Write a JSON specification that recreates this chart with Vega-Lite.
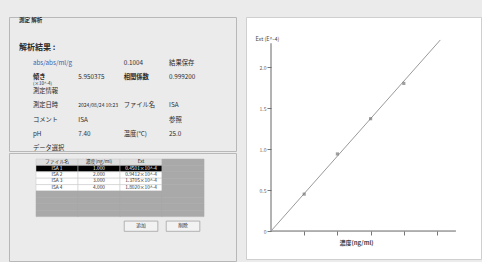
{
  "$schema": "https://vega.github.io/schema/vega-lite/v6.json",
  "background": "#ebebeb",
  "padding": {"left": 8, "top": 16, "right": 0, "bottom": 0},
  "spacing": 8,
  "config": {"font": "Noto Sans CJK JP", "view": {"stroke": null}},
  "datasets": {
    "results": [
      {"line": "k0", "col": "c1", "text": "測定   解析"},
      {"line": "k4", "col": "c1", "text": "解析結果 :"},
      {"line": "k6", "col": "c1", "text": "abs/abs/ml/g"},
      {"line": "k6", "col": "c3", "text": "0.1004"},
      {"line": "k6", "col": "c4", "text": "結果保存"},
      {"line": "k8", "col": "c1", "text": "傾き"},
      {"line": "k8", "col": "c2", "text": "5.950375"},
      {"line": "k8", "col": "c3", "text": "相関係数"},
      {"line": "k8", "col": "c4", "text": "0.999200"},
      {"line": "k9", "col": "c1", "text": "(×10^-4)"},
      {"line": "k10", "col": "c1", "text": "測定情報"},
      {"line": "k12", "col": "c1", "text": "測定日時"},
      {"line": "k12", "col": "c2", "text": "2024/08/24 10:23"},
      {"line": "k12", "col": "c3", "text": "ファイル名"},
      {"line": "k12", "col": "c4", "text": "ISA"},
      {"line": "k14", "col": "c1", "text": "コメント"},
      {"line": "k14", "col": "c2", "text": "ISA"},
      {"line": "k14", "col": "c4", "text": "参照"},
      {"line": "k16", "col": "c1", "text": "pH"},
      {"line": "k16", "col": "c2", "text": "7.40"},
      {"line": "k16", "col": "c3", "text": "温度(°C)"},
      {"line": "k16", "col": "c4", "text": "25.0"},
      {"line": "k18", "col": "c1", "text": "データ選択"}
    ],
    "table": [
      {"row": "h", "col": "name", "text": "ファイル名"},
      {"row": "h", "col": "conc", "text": "濃度(ng/ml)"},
      {"row": "h", "col": "ext", "text": "Ext"},
      {"row": "h", "col": "pad", "text": ""},
      {"row": "r1", "col": "name", "text": "ISA 1"},
      {"row": "r1", "col": "conc", "text": "1.000"},
      {"row": "r1", "col": "ext", "text": "0.4501×10^-4"},
      {"row": "r1", "col": "pad", "text": ""},
      {"row": "r2", "col": "name", "text": "ISA 2"},
      {"row": "r2", "col": "conc", "text": "2.000"},
      {"row": "r2", "col": "ext", "text": "0.9412×10^-4"},
      {"row": "r2", "col": "pad", "text": ""},
      {"row": "r3", "col": "name", "text": "ISA 3"},
      {"row": "r3", "col": "conc", "text": "3.000"},
      {"row": "r3", "col": "ext", "text": "1.3705×10^-4"},
      {"row": "r3", "col": "pad", "text": ""},
      {"row": "r4", "col": "name", "text": "ISA 4"},
      {"row": "r4", "col": "conc", "text": "4.000"},
      {"row": "r4", "col": "ext", "text": "1.8020×10^-4"},
      {"row": "r4", "col": "pad", "text": ""},
      {"row": "g1", "col": "name", "text": ""},
      {"row": "g1", "col": "conc", "text": ""},
      {"row": "g1", "col": "ext", "text": ""},
      {"row": "g1", "col": "pad", "text": ""},
      {"row": "g2", "col": "name", "text": ""},
      {"row": "g2", "col": "conc", "text": ""},
      {"row": "g2", "col": "ext", "text": ""},
      {"row": "g2", "col": "pad", "text": ""},
      {"row": "g3", "col": "name", "text": ""},
      {"row": "g3", "col": "conc", "text": ""},
      {"row": "g3", "col": "ext", "text": ""},
      {"row": "g3", "col": "pad", "text": ""},
      {"row": "g4", "col": "name", "text": ""},
      {"row": "g4", "col": "conc", "text": ""},
      {"row": "g4", "col": "ext", "text": ""},
      {"row": "g4", "col": "pad", "text": ""},
      {"row": "b", "col": "ext", "text": "追加"},
      {"row": "b", "col": "pad", "text": "削除"}
    ],
    "axes": [
      {"conc": 0, "conc2": 5.57, "ext": 0, "ext2": 0},
      {"conc": 0, "conc2": 0, "ext": 0, "ext2": 2.29}
    ],
    "fit": [
      {"conc": 0, "ext": 0},
      {"conc": 5.1, "ext": 2.33}
    ],
    "points": [
      {"conc": 1, "ext": 0.45},
      {"conc": 2, "ext": 0.94},
      {"conc": 3, "ext": 1.37},
      {"conc": 4, "ext": 1.80}
    ]
  },
  "hconcat": [
    {
      "vconcat": [
        {
          "width": 227,
          "height": 134,
          "view": {"fill": "#ebebeb", "stroke": "#b8b8b8"},
          "data": {"name": "results"},
          "encoding": {
            "x": {"field": "col", "type": "nominal", "axis": null, "scale": {"type": "point", "domain": ["c1", "c2", "c3", "c4"], "padding": 1.08, "align": 0.263}},
            "y": {"field": "line", "type": "nominal", "axis": null, "scale": {"type": "point", "domain": ["k0", "k1", "k2", "k3", "k4", "k5", "k6", "k7", "k8", "k9", "k10", "k11", "k12", "k13", "k14", "k15", "k16", "k17", "k18"], "padding": 0.42}},
            "text": {"field": "text"},
            "color": {"condition": {"test": "datum.text == 'abs/abs/ml/g'", "value": "#3a5fb0"}, "value": "#2a2a2a"}
          },
          "layer": [
            {
              "transform": [{"filter": "datum.line == 'k0' || datum.line == 'k4'"}],
              "mark": {"type": "text", "align": "left", "dx": -14, "fontWeight": "bold"},
              "encoding": {
                "size": {"condition": {"test": "datum.line == 'k4'", "value": 8}, "value": 5.5}
              }
            },
            {
              "transform": [{"filter": "datum.text == '傾き' || datum.text == '相関係数'"}],
              "mark": {"type": "text", "align": "left", "fontWeight": "bold", "fontSize": 6.3},
              "encoding": {}
            },
            {
              "transform": [{"filter": "datum.line != 'k0' && datum.line != 'k4' && datum.text != '傾き' && datum.text != '相関係数'"}],
              "mark": {"type": "text", "align": "left"},
              "encoding": {
                "size": {"condition": [{"test": "datum.line == 'k9'", "value": 4.5}, {"test": "datum.line == 'k12' && datum.col == 'c2'", "value": 5}], "value": 6.3}
              }
            }
          ]
        },
        {
          "width": 227,
          "height": 108,
          "view": {"fill": "#ebebeb", "stroke": "#b8b8b8"},
          "data": {"name": "table"},
          "encoding": {
            "x": {"field": "col", "type": "nominal", "axis": null, "scale": {"type": "band", "domain": ["name", "conc", "ext", "pad"], "paddingInner": 0, "paddingOuter": 0.702, "align": 0.458}},
            "y": {"field": "row", "type": "nominal", "axis": null, "scale": {"type": "band", "domain": ["h", "r1", "r2", "r3", "r4", "g1", "g2", "g3", "g4", "g5", "b", "e1", "e2", "e3", "e4"], "paddingInner": 0, "paddingOuter": 0.9375, "align": 0.5}}
          },
          "layer": [
            {
              "transform": [{"filter": "datum.row != 'b'"}],
              "mark": {"type": "rect"},
              "encoding": {
                "fill": {"condition": [{"test": "datum.row == 'r1' && datum.col != 'pad'", "value": "#000000"}, {"test": "datum.row == 'h' && datum.col != 'pad'", "value": "#dedede"}, {"test": "datum.col == 'pad' || indexof(datum.row, 'g') == 0", "value": "#a9a9a9"}], "value": "#ffffff"},
                "stroke": {"condition": {"test": "datum.col == 'pad' || indexof(datum.row, 'g') == 0", "value": "#a9a9a9"}, "value": "#c4c4c4"},
                "strokeWidth": {"value": 0.5}
              }
            },
            {
              "transform": [{"filter": "datum.row == 'b'"}],
              "mark": {"type": "rect", "fill": "#f2f2f2", "stroke": "#9a9a9a", "strokeWidth": 0.7, "width": {"band": 0.8}, "height": {"band": 1.6}},
              "encoding": {}
            },
            {
              "mark": {"type": "text", "fontSize": 4.8},
              "encoding": {
                "text": {"field": "text"},
                "color": {"condition": {"test": "datum.row == 'r1'", "value": "#ffffff"}, "value": "#2a2a2a"}
              }
            }
          ]
        }
      ],
      "spacing": 0
    },
    {
      "width": 235,
      "height": 242,
      "view": {"fill": "#ffffff", "stroke": "#cfcfcf"},
      "encoding": {
        "x": {
          "field": "conc", "type": "quantitative",
          "scale": {"domain": [-0.753, 6.325], "nice": false, "zero": false},
          "axis": {
            "values": [1, 2, 3, 4, 5], "domain": false, "grid": false, "offset": -28,
            "tickSize": 4, "tickColor": "#777777", "labels": false,
            "title": "濃度(ng/ml)", "titleFontSize": 6, "titleFontWeight": "bold", "titleColor": "#444444",
            "titleX": 110, "titleY": 8, "titleAlign": "center", "titleBaseline": "top"
          }
        },
        "y": {
          "field": "ext", "type": "quantitative",
          "scale": {"domain": [-0.341, 2.61], "nice": false, "zero": false},
          "axis": {
            "values": [0, 0.5, 1, 1.5, 2], "domain": false, "grid": false, "offset": -25,
            "tickSize": 4, "tickColor": "#777777", "labelFontSize": 5, "labelColor": "#666666", "labelPadding": 1,
            "labelExpr": "datum.value == 0 ? '0' : format(datum.value, '.1f')",
            "title": "Ext (E^-4)", "titleAngle": 0, "titleAlign": "left", "titleBaseline": "bottom",
            "titleX": -16, "titleY": 24, "titleFontSize": 5.5, "titleFontWeight": "normal", "titleColor": "#444444"
          }
        }
      },
      "layer": [
        {
          "data": {"name": "axes"},
          "mark": {"type": "rule", "color": "#666666", "strokeWidth": 1},
          "encoding": {"x2": {"field": "conc2"}, "y2": {"field": "ext2"}}
        },
        {
          "data": {"name": "fit"},
          "mark": {"type": "line", "color": "#9a9a9a", "strokeWidth": 1},
          "encoding": {}
        },
        {
          "data": {"name": "points"},
          "mark": {"type": "point", "shape": "square", "size": 10, "filled": true, "color": "#777777"},
          "encoding": {}
        }
      ]
    }
  ]
}
